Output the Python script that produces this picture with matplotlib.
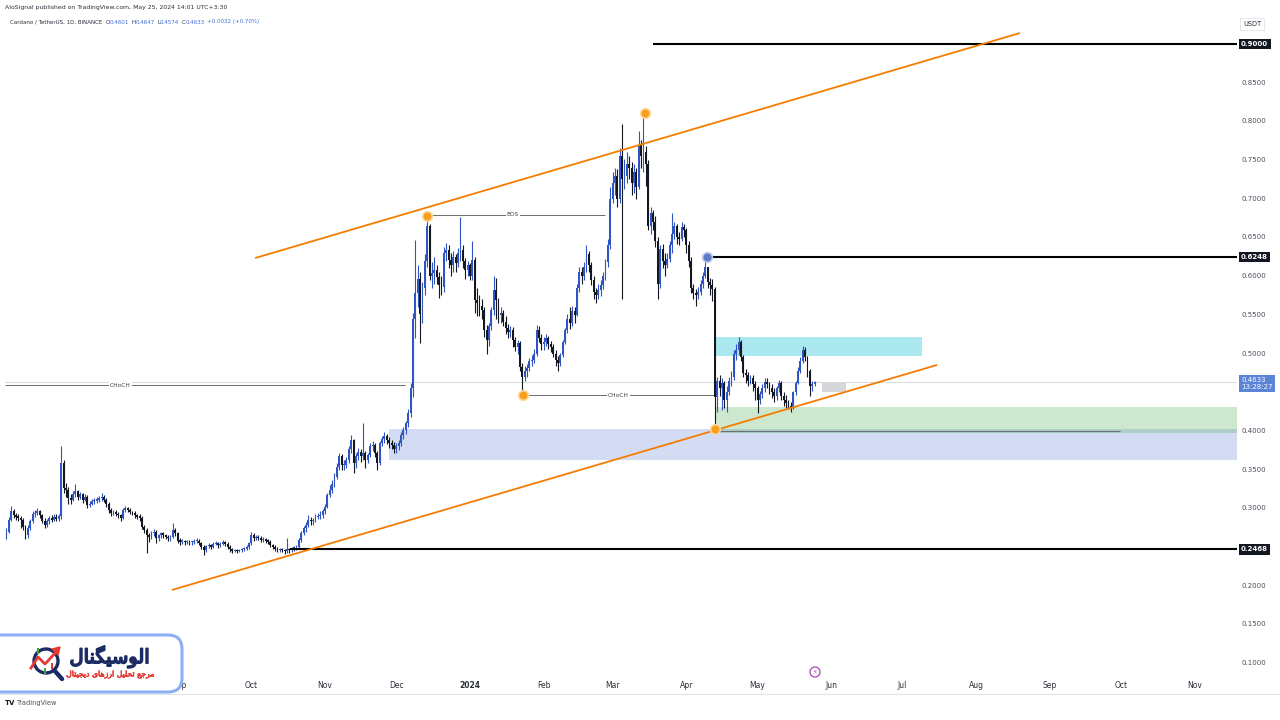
import numpy as np
import matplotlib
matplotlib.use("Agg")
import matplotlib.pyplot as plt
from matplotlib.patches import Rectangle, FancyBboxPatch, Circle, Polygon
from matplotlib.lines import Line2D
from matplotlib.transforms import blended_transform_factory, IdentityTransform
import matplotlib.patheffects as pe
from datetime import date

# ---------------- data (ADA/USDT daily) ----------------
start_date = date(2023, 6, 19)
first_open = 0.258
closes = [
0.262,0.270,0.285,0.297,0.291,0.289,0.288,0.285,0.276,0.265,
0.275,0.283,0.292,0.294,0.296,0.291,0.284,0.278,0.283,0.287,
0.285,0.289,0.286,0.290,0.358,0.326,0.324,0.313,0.311,0.318,
0.322,0.315,0.318,0.311,0.315,0.304,0.306,0.309,0.310,0.311,
0.313,0.315,0.311,0.306,0.298,0.294,0.295,0.293,0.291,0.288,
0.298,0.300,0.298,0.295,0.294,0.291,0.289,0.288,0.276,0.272,
0.265,0.263,0.268,0.270,0.261,0.265,0.268,0.265,0.263,0.261,
0.263,0.272,0.268,0.258,0.257,0.257,0.256,0.257,0.256,0.256,
0.258,0.258,0.255,0.250,0.246,0.251,0.252,0.250,0.254,0.255,
0.252,0.254,0.256,0.254,0.250,0.247,0.245,0.246,0.245,0.246,
0.247,0.248,0.250,0.255,0.266,0.261,0.263,0.262,0.259,0.260,
0.258,0.257,0.252,0.250,0.248,0.246,0.247,0.246,0.245,0.247,
0.246,0.248,0.248,0.250,0.259,0.268,0.274,0.278,0.285,0.283,
0.285,0.289,0.290,0.291,0.296,0.302,0.317,0.324,0.332,0.341,
0.354,0.367,0.356,0.356,0.362,0.377,0.388,0.358,0.367,0.373,
0.367,0.371,0.362,0.369,0.380,0.382,0.371,0.358,0.384,0.390,
0.393,0.388,0.384,0.382,0.377,0.380,0.384,0.395,0.401,0.410,
0.423,0.455,0.545,0.578,0.596,0.551,0.585,0.620,0.665,0.600,
0.604,0.608,0.599,0.589,0.586,0.630,0.634,0.621,0.614,0.625,
0.617,0.630,0.634,0.619,0.608,0.614,0.600,0.621,0.569,0.565,
0.561,0.556,0.530,0.517,0.535,0.556,0.582,0.569,0.550,0.552,
0.541,0.533,0.528,0.530,0.517,0.509,0.513,0.483,0.470,0.477,
0.481,0.490,0.492,0.500,0.530,0.520,0.512,0.515,0.520,0.512,
0.508,0.500,0.492,0.488,0.498,0.515,0.530,0.545,0.540,0.555,
0.550,0.585,0.605,0.600,0.612,0.628,0.615,0.595,0.580,0.575,
0.582,0.588,0.600,0.618,0.640,0.700,0.720,0.730,0.700,0.755,
0.725,0.730,0.745,0.740,0.720,0.735,0.715,0.770,0.755,0.760,
0.745,0.665,0.681,0.670,0.645,0.590,0.635,0.620,0.615,0.622,
0.640,0.655,0.665,0.650,0.648,0.664,0.660,0.640,0.620,0.585,
0.578,0.575,0.580,0.590,0.600,0.612,0.592,0.588,0.584,0.444,
0.465,0.455,0.462,0.440,0.450,0.465,0.470,0.500,0.505,0.515,
0.495,0.475,0.472,0.465,0.468,0.460,0.455,0.440,0.448,0.455,
0.463,0.460,0.455,0.450,0.445,0.455,0.462,0.445,0.440,0.436,
0.432,0.430,0.450,0.462,0.478,0.490,0.505,0.495,0.478,0.458,
0.4601,0.4633]
highs = [
.266,.274,.289,.303,.299,.294,.293,.290,.287,.278,
.278,.286,.296,.298,.300,.298,.293,.287,.286,.290,
.291,.292,.292,.293,.380,.362,.333,.327,.318,.322,
.331,.324,.321,.320,.318,.317,.309,.312,.313,.314,
.316,.320,.317,.313,.308,.300,.298,.298,.295,.293,
.300,.303,.302,.300,.297,.296,.293,.292,.290,.279,
.275,.268,.271,.273,.272,.267,.270,.269,.267,.265,
.265,.281,.274,.270,.261,.260,.259,.259,.259,.258,
.260,.261,.260,.256,.252,.253,.255,.254,.256,.258,
.257,.256,.259,.258,.256,.252,.249,.248,.248,.248,
.249,.250,.252,.257,.270,.268,.265,.265,.264,.263,
.262,.260,.259,.254,.252,.250,.249,.249,.248,.262,
.249,.250,.251,.253,.261,.271,.277,.282,.291,.289,
.288,.293,.294,.296,.299,.305,.320,.330,.336,.345,
.358,.372,.370,.362,.366,.381,.395,.390,.371,.378,
.376,.410,.374,.372,.384,.387,.385,.374,.387,.394,
.398,.396,.392,.388,.386,.384,.388,.398,.405,.413,
.428,.462,.552,.647,.615,.605,.592,.628,.679,.668,
.618,.625,.614,.605,.600,.638,.643,.640,.630,.632,
.628,.636,.677,.640,.624,.620,.617,.645,.625,.585,
.575,.570,.560,.537,.540,.560,.600,.598,.572,.560,
.556,.548,.538,.536,.534,.522,.518,.516,.488,.484,
.487,.494,.498,.506,.537,.535,.525,.521,.525,.523,
.516,.512,.505,.497,.501,.518,.533,.551,.560,.562,
.560,.590,.612,.612,.618,.640,.632,.618,.600,.585,
.590,.595,.605,.622,.648,.715,.735,.740,.738,.765,
.797,.752,.760,.755,.748,.745,.740,.787,.776,.810,
.768,.750,.690,.685,.678,.650,.640,.642,.630,.630,
.645,.681,.670,.668,.657,.670,.668,.662,.645,.625,
.590,.584,.586,.595,.605,.6248,.612,.598,.596,.586,
.470,.472,.468,.465,.458,.470,.478,.505,.512,.521,
.518,.498,.480,.476,.472,.472,.465,.458,.452,.460,
.468,.468,.463,.460,.455,.458,.466,.465,.450,.446,
.440,.438,.452,.465,.482,.495,.510,.508,.497,.480,
.465,.4647]
lows = [
.255,.260,.268,.283,.287,.285,.284,.274,.272,.260,
.262,.272,.281,.289,.291,.288,.281,.274,.276,.280,
.282,.283,.284,.284,.286,.320,.315,.306,.305,.309,
.314,.311,.312,.307,.309,.300,.302,.304,.306,.307,
.308,.310,.308,.302,.294,.290,.291,.290,.287,.284,
.286,.295,.295,.292,.291,.288,.286,.284,.273,.268,
.242,.256,.260,.264,.255,.258,.262,.261,.260,.258,
.258,.261,.264,.255,.253,.254,.253,.254,.253,.253,
.254,.255,.252,.247,.240,.244,.249,.247,.249,.252,
.249,.250,.252,.251,.247,.243,.242,.243,.242,.243,
.243,.245,.246,.248,.253,.258,.259,.259,.256,.257,
.255,.254,.250,.247,.245,.243,.244,.243,.241,.242,
.242,.244,.245,.246,.248,.256,.265,.270,.276,.278,
.279,.282,.286,.286,.288,.293,.300,.314,.320,.328,
.338,.350,.350,.349,.352,.358,.372,.345,.352,.362,
.360,.362,.352,.358,.366,.374,.366,.350,.356,.380,
.385,.383,.378,.376,.372,.372,.375,.380,.390,.396,
.405,.418,.444,.520,.560,.513,.540,.575,.612,.595,
.585,.590,.590,.572,.575,.580,.620,.610,.600,.605,
.605,.612,.620,.610,.596,.600,.595,.595,.552,.548,
.548,.545,.522,.500,.510,.530,.550,.545,.540,.540,
.535,.525,.520,.522,.508,.503,.500,.478,.446,.465,
.470,.477,.484,.488,.497,.515,.505,.505,.510,.506,
.502,.495,.484,.478,.484,.495,.512,.527,.532,.535,
.540,.548,.580,.590,.595,.606,.605,.588,.570,.565,
.570,.574,.583,.595,.612,.635,.695,.705,.690,.695,
.571,.712,.720,.726,.705,.708,.700,.712,.740,.735,
.716,.660,.655,.660,.638,.571,.585,.610,.600,.610,
.618,.630,.648,.642,.640,.645,.650,.630,.612,.578,
.570,.561,.570,.576,.585,.597,.585,.575,.568,.402,
.425,.445,.427,.430,.424,.446,.458,.466,.492,.498,
.490,.470,.462,.458,.460,.452,.440,.423,.435,.442,
.450,.455,.448,.443,.438,.440,.450,.440,.432,.430,
.428,.425,.428,.446,.460,.475,.488,.490,.470,.445,
.452,.4574]

month_labels = ["Sep", "Oct", "Nov", "Dec", "2024", "Feb", "Mar", "Apr", "May",
                "Jun", "Jul", "Aug", "Sep", "Oct", "Nov"]
month_dates = [date(2023, 9, 1), date(2023, 10, 1), date(2023, 11, 1), date(2023, 12, 1),
               date(2024, 1, 1), date(2024, 2, 1), date(2024, 3, 1), date(2024, 4, 1),
               date(2024, 5, 1), date(2024, 6, 1), date(2024, 7, 1), date(2024, 8, 1),
               date(2024, 9, 1), date(2024, 10, 1), date(2024, 11, 1)]
price_ticks = [0.85, 0.80, 0.75, 0.70, 0.65, 0.60, 0.55, 0.50, 0.40, 0.35, 0.30, 0.20, 0.15, 0.10]

# drawn levels (price, start day index)
level_prices = [0.9000, 0.6248, 0.2468]
level_starts = [273.0, 295.7, 120.3]
last_price = 0.4633

# drawing anchors (day index, price)
upper_channel = [(105.6, 0.6234), (427.4, 0.9142)]
lower_channel = [(70.6, 0.1944), (392.5, 0.4852)]
orange_pivots_x = [177.9, 269.6, 218.3, 299.1]
orange_pivots_y = [0.678, 0.811, 0.446, 0.402]
blue_pivot = (295.7, 0.6248)

# ---------------- figure ----------------
W, H = 1280, 720
fig = plt.figure(figsize=(W / 100, H / 100), dpi=100)
fig.patch.set_facecolor("white")
ax = fig.add_axes([5 / W, 1 - 676 / H, 1232 / W, 662 / H])
XMIN, XMAX = 0.38, 518.7
ax.set_xlim(XMIN, XMAX)
ax.set_ylim(0.08327, 0.93877)
ax.axis("off")

n = len(closes)
idx = np.arange(n)
c = np.array(closes)
o = np.array([first_open] + closes[:-1])
hi = np.array(highs)
lo = np.array(lows)
UP, DN = "#2f55c4", "#131722"
col = np.where(c >= o, UP, DN)

# zones
def zone(x0, x1, y0, y1, fc, z=1):
    ax.add_patch(Rectangle((x0, y0), x1 - x0, y1 - y0, facecolor=fc, edgecolor="none", zorder=z))

zone(161.9, XMAX, 0.3624, 0.4025, (115 / 255, 140 / 255, 217 / 255, 0.30))
zone(299.1, XMAX, 0.3973, 0.4310, (76 / 255, 175 / 255, 80 / 255, 0.28))
zone(299.1, 386.2, 0.4968, 0.5214, (0 / 255, 188 / 255, 212 / 255, 0.33))
zone(344.1, 354.2, 0.4500, 0.4620, (120 / 255, 123 / 255, 134 / 255, 0.30))
ax.hlines(0.400, 299.1, 469.5, color="#6b6f78", lw=0.8, zorder=2)

# last price line
ax.axhline(last_price, color="#d0d3da", lw=0.6, zorder=1)

# structure lines
ax.hlines(0.6795, 177.9, 252.8, color="#555", lw=0.6, zorder=2)
ax.text(214.1, 0.6795, "BOS", fontsize=4.2, color="#444", ha="center", va="center",
        bbox=dict(fc="white", ec="none", pad=0.8), zorder=2)
ax.hlines(0.4593, XMIN, 168.7, color="#555", lw=0.6, zorder=2)
ax.text(48.8, 0.4593, "CHoCH", fontsize=4.2, color="#444", ha="center", va="center",
        bbox=dict(fc="white", ec="none", pad=0.8), zorder=2)
ax.hlines(0.4464, 218.3, 299.1, color="#555", lw=0.6, zorder=2)
ax.text(258.3, 0.4464, "CHoCH", fontsize=4.2, color="#444", ha="center", va="center",
        bbox=dict(fc="white", ec="none", pad=0.8), zorder=2)

# candles
ax.vlines(idx, lo, hi, colors=col, lw=0.8, zorder=3)
body_lo = np.minimum(o, c)
body_h = np.maximum(np.abs(c - o), 0.0014)
ax.bar(idx, body_h, bottom=body_lo, width=0.78, color=col, lw=0, zorder=3)

# key levels
for p, s in zip(level_prices, level_starts):
    ax.hlines(p, s, XMAX, color="black", lw=1.5, zorder=4)

# channel
for pts in (upper_channel, lower_channel):
    ax.plot([pts[0][0], pts[1][0]], [pts[0][1], pts[1][1]], color="#f57c00", lw=1.3, zorder=5,
            solid_capstyle="butt")

ax.plot(orange_pivots_x, orange_pivots_y, "o", ms=7, mfc="#f7a01d", mec="#fbd9a6", mew=1.2, zorder=6)
ax.plot([blue_pivot[0]], [blue_pivot[1]], "o", ms=7, mfc="#5c7cc6", mec="#bfcbe9", mew=1.2, zorder=6)

# right price scale
tr_r = blended_transform_factory(ax.transAxes, ax.transData)
xl = (1241 - 5) / 1232
for p in price_ticks:
    ax.text(xl, p, f"{p:.4f}", transform=tr_r, fontsize=5, color="#4a4f5c",
            ha="left", va="center", clip_on=False)
for p in level_prices:
    ax.text(xl, p, f"{p:.4f}", transform=tr_r, fontsize=5, color="white", ha="left", va="center",
            fontweight="bold", clip_on=False,
            bbox=dict(boxstyle="square,pad=0.35", fc="#131722", ec="none"))
ax.text(xl, last_price - 0.002, f"{last_price:.4f}\n13:28:27", transform=tr_r, fontsize=5,
        color="white", ha="left", va="center", linespacing=1.05, clip_on=False,
        bbox=dict(boxstyle="square,pad=0.35", fc="#5b84d6", ec="none"))

# time scale
tr_b = blended_transform_factory(ax.transData, ax.transAxes)
for lab, d in zip(month_labels, month_dates):
    xi = (d - start_date).days
    ax.text(xi, -10 / 662, lab, transform=tr_b, fontsize=5.5, color="#2a2e39",
            ha="center", va="center", clip_on=False,
            fontweight="bold" if lab == "2024" else "normal")

# header texts
def ftext(px, py, s, **kw):
    return fig.text(px / W, 1 - py / H, s, **kw)

ftext(5, 7, "AloSignal published on TradingView.com, May 25, 2024 14:01 UTC+3:30",
      fontsize=4.4, color="#2a2e39", va="center")

renderer = fig.canvas.get_renderer()
blue_t = "#3c6fd8"
dark_t = "#2a2e39"
pieces = [("Cardano / TetherUS, 1D, BINANCE", dark_t, 3.0),
          ("O", dark_t, 0.0), ("0.4601", blue_t, 2.5),
          ("H", dark_t, 0.0), ("0.4647", blue_t, 2.5),
          ("L", dark_t, 0.0), ("0.4574", blue_t, 2.5),
          ("C", dark_t, 0.0), ("0.4633", blue_t, 2.5),
          ("+0.0032 (+0.70%)", blue_t, 0.0)]
cur_x = 10.0
for s, colr, gap in pieces:
    t = ftext(cur_x, 22, s, fontsize=4.0, color=colr, va="center")
    bb = t.get_window_extent(renderer=renderer)
    cur_x += bb.width + gap

ftext(1252, 24, "USDT", fontsize=4.8, color="#2a2e39", ha="center", va="center",
      bbox=dict(boxstyle="square,pad=0.5", fc="white", ec="#e0e3eb", lw=0.6))

# footer
fig.add_artist(Line2D([0, 1], [1 - 694 / H, 1 - 694 / H], color="#e0e3eb", lw=0.8,
                      transform=fig.transFigure))
ftext(5, 703, "TV", fontsize=5, color="#131722", fontweight="bold", va="center")
ftext(17, 703, "TradingView", fontsize=4.8, color="#50535e", va="center")

# purple event marker
ID = IdentityTransform()
fig.add_artist(Circle((815, H - 672), 5, transform=ID, fc="white", ec="#ab47bc", lw=0.9))
ftext(815, 672.5, "\u26A1", fontsize=4.5, color="#ab47bc", ha="center", va="center")

# logo card
fig.add_artist(FancyBboxPatch((-20, H - 692), 202, 57, transform=ID,
                              boxstyle="round,pad=0,rounding_size=14",
                              fc="white", ec="#8db0f2", lw=2.2, zorder=10))
navy, red = "#1d2b64", "#e53935"
fig.add_artist(Circle((46, H - 661), 12, transform=ID, fill=False, ec=navy, lw=2.4, zorder=11))
fig.add_artist(Line2D([54, 62], [H - 670, H - 679], transform=ID, color=navy, lw=3.2,
                      solid_capstyle="round", zorder=11))
fig.add_artist(Line2D([31, 38, 45, 57], [H - 668, H - 657, H - 664, H - 651], transform=ID,
                      color=red, lw=2.0, zorder=12))
fig.add_artist(Polygon([[60, H - 647], [52, H - 649], [58, H - 655]], closed=True, transform=ID,
                       fc=red, ec=red, zorder=12))
for (cx, cy, cc) in [(38, 651, "#43a047"), (45, 671, "#43a047"), (52, 666, red)]:
    fig.add_artist(Rectangle((cx - 1, H - cy - 3), 2, 6, transform=ID, fc=cc, ec="none", zorder=11))

title_fa = "\uFEDD\uFE8E\uFEE8\uFB95\uFEF4\uFEB3\uFEEE\uFEDF\uFE8D"
sub_fa = ("\uFEDD\uFE8E\uFE98\uFEF4\uFEA0\uFEF3\uFEA9 \uFEEF\uFE8E\uFEEB\uFEAF\uFEAD\uFE8D "
          "\uFEDE\uFEF4\uFEE0\uFEA4\uFE97 \uFECA\uFE9F\uFEAE\uFEE3")
t1 = fig.text(110 / W, 1 - 657 / H, title_fa, fontsize=14, color=navy, ha="center", va="center",
              family="DejaVu Sans", zorder=12)
t1.set_path_effects([pe.withStroke(linewidth=1.2, foreground=navy)])
t2 = fig.text(110 / W, 1 - 674 / H, sub_fa, fontsize=5.6, color=red, ha="center", va="center",
              family="DejaVu Sans", zorder=12)
t2.set_path_effects([pe.withStroke(linewidth=0.4, foreground=red)])

fig.savefig("out.png", dpi=100, facecolor="white")
